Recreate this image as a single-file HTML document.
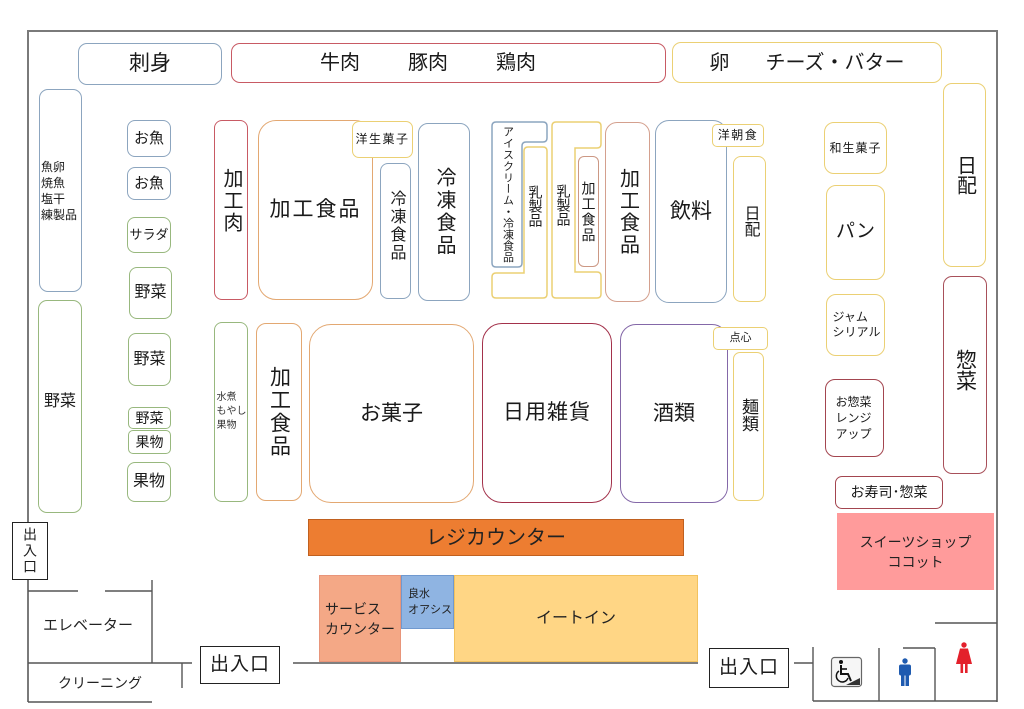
<!DOCTYPE html>
<html><head><meta charset="utf-8">
<style>
*{margin:0;padding:0;box-sizing:border-box}
body{width:1024px;height:709px;background:#fff;position:relative;overflow:hidden;font-family:"Liberation Sans","Noto Sans CJK JP",sans-serif;color:#1a1a1a}
.b{position:absolute;border:1.5px solid #8CA5BF;border-radius:9px;background:#fff;display:flex;align-items:center;justify-content:center;text-align:center;line-height:1.2;white-space:nowrap}
.v{writing-mode:vertical-rl;line-height:1}
.bl{border-color:#8CA5BF}
.rd{border-color:#C85A64}
.ye{border-color:#EBD074}
.gr{border-color:#98B87E}
.or{border-color:#E3A872}
.br{border-color:#CC9884}
.dr{border-color:#A3454F}
.t{position:absolute;white-space:nowrap;line-height:1}
.vt{position:absolute;display:flex;align-items:center;justify-content:center;white-space:nowrap}
.vt span{writing-mode:vertical-rl;text-orientation:upright;line-height:1;display:block}
svg{position:absolute;left:0;top:0}
</style></head><body>
<svg width="1024" height="709" viewBox="0 0 1024 709">
  <g fill="none" stroke="#7a7a7a" stroke-width="2">
    <line x1="28" y1="31" x2="997" y2="31"/>
    <line x1="28" y1="30" x2="28" y2="522"/>
    <line x1="28" y1="580" x2="28" y2="702"/>
    <line x1="997" y1="30" x2="997" y2="702"/>
  </g>
  <g fill="none" stroke="#555" stroke-width="1.4">
    <line x1="28" y1="591" x2="78" y2="591"/>
    <line x1="105" y1="591" x2="152" y2="591"/>
    <line x1="152" y1="580" x2="152" y2="663"/>
    <line x1="28" y1="663" x2="192" y2="663"/>
    <line x1="182" y1="663" x2="182" y2="688"/>
    <line x1="28" y1="702" x2="152" y2="702"/>
    <line x1="293" y1="663" x2="698" y2="663"/>
    <line x1="794" y1="663" x2="813" y2="663"/>
    <line x1="813" y1="647" x2="813" y2="701"/>
    <line x1="813" y1="701" x2="997" y2="701"/>
    <line x1="879" y1="648" x2="879" y2="701"/>
    <line x1="935" y1="648" x2="935" y2="701"/>
    <line x1="903" y1="648" x2="935" y2="648"/>
    <line x1="935" y1="623" x2="997" y2="623"/>
  </g>
  <path d="M496,122 H543 Q547,122 547,126 V138 Q547,142 543,142 H526 Q522,142 522,146 V263 Q522,267 518,267 H496 Q492,267 492,263 V126 Q492,122 496,122 Z" fill="#fff" stroke="#8CA5BF" stroke-width="1.5"/>
  <path d="M528,147 H543 Q547,147 547,151 V294 Q547,298 543,298 H496 Q492,298 492,294 V277 Q492,273 496,273 H524 V151 Q524,147 528,147 Z" fill="#fff" stroke="#EBD074" stroke-width="1.5"/>
  <path d="M556,122 H597 Q601,122 601,126 V144 Q601,148 597,148 H575 V272 H597 Q601,272 601,276 V294 Q601,298 597,298 H556 Q552,298 552,294 V126 Q552,122 556,122 Z" fill="#fff" stroke="#EBD074" stroke-width="1.5"/>
  <rect x="831.5" y="657.5" width="30" height="29" rx="3" fill="#f6f6f6" stroke="#666" stroke-width="1.2"/>
  <circle cx="841" cy="662" r="2" fill="#111"/>
  <path d="M841,665 V674 H848 L851,681" fill="none" stroke="#111" stroke-width="2"/>
  <line x1="841" y1="669" x2="847" y2="669" stroke="#111" stroke-width="1.6"/>
  <path d="M839,671 A6,6 0 1 0 848,678" fill="none" stroke="#111" stroke-width="1.5"/>
  <polygon points="846,685 860,685 860,678" fill="#333"/>
  <g fill="#1F5BB0">
    <circle cx="905" cy="661" r="2.7"/>
    <rect x="899" y="664.5" width="12" height="11" rx="2"/>
    <rect x="901" y="674" width="3.5" height="12"/>
    <rect x="905.5" y="674" width="3.5" height="12"/>
  </g>
  <g fill="#E3202B">
    <circle cx="964" cy="645" r="2.7"/>
    <polygon points="960,648.5 968,648.5 972,664 956,664"/>
    <rect x="960.5" y="663" width="2.6" height="10"/>
    <rect x="965" y="663" width="2.6" height="10"/>
  </g>
</svg>

<div class="vt" style="left:492px;top:122px;width:30px;height:145px;font-size:11px"><span style="letter-spacing:0.4px">アイスクリーム・冷凍食品</span></div>
<div class="vt" style="left:524px;top:147px;width:23px;height:126px;font-size:14px;padding-bottom:8px"><span>乳製品</span></div>
<div class="vt" style="left:552px;top:122px;width:23px;height:176px;font-size:14px;padding-bottom:10px"><span>乳製品</span></div>

<div class="b bl" style="left:78px;top:43px;width:144px;height:42px;font-size:21px">刺身</div>
<div class="b rd" style="left:231px;top:43px;width:435px;height:40px;font-size:20px;justify-content:flex-start;padding-left:88px"><span>牛肉</span><span style="margin-left:48px">豚肉</span><span style="margin-left:48px">鶏肉</span></div>
<div class="b ye" style="left:672px;top:42px;width:270px;height:41px;font-size:20px"><span>卵</span><span style="margin-left:36px">チーズ・バター</span></div>

<div class="b bl" style="left:39px;top:89px;width:43px;height:203px;font-size:12px;line-height:16px;justify-content:flex-start;padding-left:1px;text-align:left">魚卵<br>焼魚<br>塩干<br>練製品</div>
<div class="b gr" style="left:38px;top:300px;width:44px;height:213px;font-size:16px;padding-bottom:10px">野菜</div>

<div class="b bl" style="left:127px;top:120px;width:44px;height:37px;border-radius:8px;font-size:15px">お魚</div>
<div class="b bl" style="left:127px;top:167px;width:44px;height:33px;border-radius:8px;font-size:15px">お魚</div>
<div class="b gr" style="left:127px;top:217px;width:44px;height:36px;border-radius:8px;font-size:13px">サラダ</div>
<div class="b gr" style="left:129px;top:267px;width:43px;height:52px;border-radius:8px;font-size:16px">野菜</div>
<div class="b gr" style="left:128px;top:333px;width:43px;height:53px;border-radius:8px;font-size:16px">野菜</div>
<div class="b gr" style="left:128px;top:407px;width:43px;height:22px;border-radius:5px;font-size:14px">野菜</div>
<div class="b gr" style="left:128px;top:430px;width:43px;height:24px;border-radius:5px;font-size:14px">果物</div>
<div class="b gr" style="left:127px;top:462px;width:44px;height:40px;border-radius:8px;font-size:16px">果物</div>

<div class="b rd v" style="left:214px;top:120px;width:34px;height:180px;border-radius:8px;font-size:20px;letter-spacing:2px;padding-bottom:18px">加工肉</div>
<div class="b or" style="left:258px;top:120px;width:115px;height:180px;border-radius:18px;font-size:21px;letter-spacing:2px">加工食品</div>
<div class="b ye" style="left:352px;top:121px;width:61px;height:37px;border-radius:7px;font-size:12px;letter-spacing:1.5px">洋生菓子</div>
<div class="b bl v" style="left:380px;top:163px;width:31px;height:136px;border-radius:8px;font-size:16px;letter-spacing:2px;padding-bottom:10px">冷凍食品</div>
<div class="b bl v" style="left:418px;top:123px;width:52px;height:178px;border-radius:10px;font-size:20px;letter-spacing:2.5px">冷凍食品</div>
<div class="b br v" style="left:578px;top:156px;width:21px;height:111px;border-radius:6px;font-size:14px;letter-spacing:1.5px">加工食品</div>
<div class="b br v" style="left:605px;top:122px;width:45px;height:180px;border-radius:12px;font-size:20px;letter-spacing:2px;border-color:#D4A08E">加工食品</div>
<div class="b bl" style="left:655px;top:120px;width:72px;height:183px;border-radius:14px;font-size:21px">飲料</div>
<div class="b ye" style="left:712px;top:124px;width:52px;height:23px;border-radius:5px;font-size:12px;letter-spacing:1.5px">洋朝食</div>
<div class="b ye v" style="left:733px;top:156px;width:33px;height:146px;border-radius:8px;font-size:16px;padding-bottom:16px">日配</div>

<div class="b ye" style="left:824px;top:122px;width:63px;height:52px;border-radius:10px;font-size:12px;letter-spacing:1px">和生菓子</div>
<div class="b ye" style="left:826px;top:185px;width:59px;height:95px;border-radius:10px;font-size:19px">パン</div>
<div class="b ye" style="left:826px;top:294px;width:59px;height:62px;border-radius:10px;font-size:12px;line-height:15px;justify-content:flex-start;text-align:left;padding-left:5.5px">ジャム<br>シリアル</div>
<div class="b dr" style="left:825px;top:379px;width:59px;height:78px;border-radius:10px;font-size:12px;line-height:16px;justify-content:flex-start;text-align:left;padding-left:9.5px">お惣菜<br>レンジ<br>アップ</div>
<div class="b ye v" style="left:943px;top:83px;width:43px;height:184px;border-radius:9px;font-size:20px">日配</div>
<div class="b dr v" style="left:943px;top:276px;width:44px;height:198px;border-radius:9px;font-size:21px;padding-bottom:10px;border-color:#A8505A">惣菜</div>
<div class="b dr" style="left:835px;top:476px;width:108px;height:33px;border-radius:7px;font-size:14px">お寿司･惣菜</div>
<div class="b" style="left:837px;top:513px;width:157px;height:77px;border:none;border-radius:0;background:#FF9B9B;font-size:14px;line-height:20px;color:#222">スイーツショップ<br>ココット</div>

<div class="b gr" style="left:214px;top:322px;width:34px;height:180px;border-radius:8px;font-size:10px;line-height:14px;justify-content:flex-start;text-align:left;padding-left:1.5px;color:#333">水煮<br>もやし<br>果物</div>
<div class="b or v" style="left:256px;top:323px;width:46px;height:178px;border-radius:10px;font-size:21px;letter-spacing:2px">加工食品</div>
<div class="b or" style="left:309px;top:324px;width:165px;height:179px;border-radius:22px;font-size:21px">お菓子</div>
<div class="b" style="left:482px;top:323px;width:130px;height:180px;border-radius:20px;font-size:21px;letter-spacing:1px;border-color:#A3324B">日用雑貨</div>
<div class="b" style="left:620px;top:324px;width:108px;height:179px;border-radius:16px;font-size:21px;border-color:#8468A8">酒類</div>
<div class="b ye" style="left:713px;top:327px;width:55px;height:23px;border-radius:5px;font-size:11px">点心</div>
<div class="b ye v" style="left:733px;top:352px;width:31px;height:149px;border-radius:7px;font-size:17px;padding-bottom:24px">麺類</div>

<div class="b" style="left:308px;top:519px;width:376px;height:37px;border:1px solid #C0601F;border-radius:0;background:#ED7D31;font-size:20px;color:#222">レジカウンター</div>
<div class="b" style="left:319px;top:575px;width:82px;height:87px;border:1px solid #E8957A;border-radius:0;background:#F4A886;font-size:14px;line-height:20px;justify-content:flex-start;text-align:left;padding-left:5px;color:#222">サービス<br>カウンター</div>
<div class="b" style="left:401px;top:575px;width:53px;height:54px;border:1px solid #7099CF;border-radius:0;background:#8FB4E2;font-size:11px;line-height:16px;justify-content:flex-start;text-align:left;padding-left:6px;color:#222">良水<br>オアシス</div>
<div class="b" style="left:454px;top:575px;width:244px;height:87px;border:1px solid #F2C25E;border-radius:0;background:#FFD685;font-size:16px;color:#222">イートイン</div>

<div class="b v" style="left:12px;top:522px;width:36px;height:58px;border:1.3px solid #222;border-radius:0;font-size:14px;letter-spacing:2px">出入口</div>
<div class="b" style="left:200px;top:646px;width:80px;height:38px;border:1.3px solid #222;border-radius:0;font-size:19px;letter-spacing:1px">出入口</div>
<div class="b" style="left:709px;top:648px;width:80px;height:40px;border:1.3px solid #222;border-radius:0;font-size:19px;letter-spacing:1px">出入口</div>

<div class="t" style="left:43px;top:618px;font-size:15px;color:#222">エレベーター</div>
<div class="t" style="left:58px;top:676px;font-size:14px;color:#222">クリーニング</div>
</body></html>
